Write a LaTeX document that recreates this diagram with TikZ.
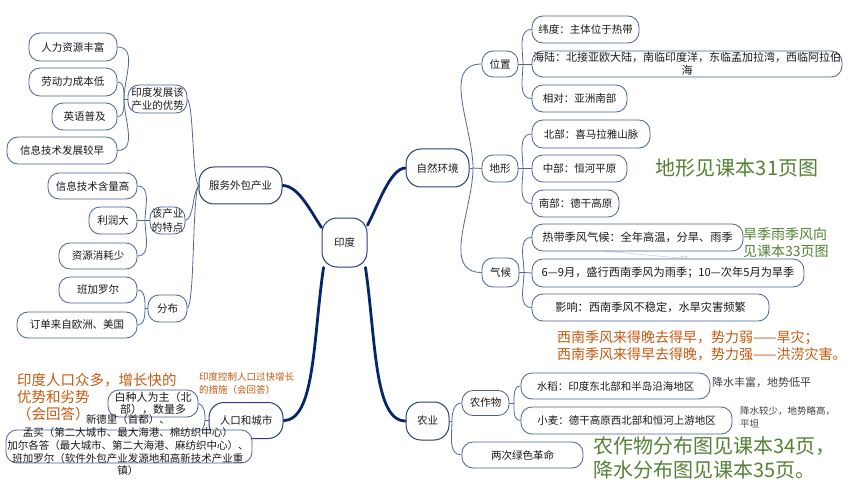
\documentclass[tikz,border=0pt]{standalone}
\usepackage{fontspec}
\setmainfont{Noto Sans CJK SC}
\usetikzlibrary{backgrounds}
\definecolor{nodeb}{RGB}{72,98,150}
\definecolor{mainb}{RGB}{40,64,120}
\definecolor{connc}{RGB}{80,104,152}
\definecolor{trunkc}{RGB}{5,38,105}
\definecolor{txt}{RGB}{25,25,25}
\definecolor{grn}{RGB}{84,130,53}
\definecolor{org}{RGB}{197,90,17}
\definecolor{gtx}{RGB}{64,64,64}
\newcommand\setfs[2]{\fontsize{#1}{#2}\selectfont}
\begin{document}
\begin{tikzpicture}[x=1pt,y=-1pt,
  bx/.style={draw=nodeb, line width=0.8pt, rounded corners=11pt, fill=white, inner sep=0pt, align=center, text=txt, font=\setfs{10.5}{13.5}},
  mainbox/.style={bx, draw=mainb, line width=1pt, rounded corners=15pt},
  conn/.style={draw=connc, line width=0.8pt},
  trunk/.style={draw=trunkc, line width=2.8pt, line cap=round},
  note/.style={inner sep=0pt, anchor=north west, align=left}]
\useasboundingbox (0,0) rectangle (860,484);

% main nodes
\node[mainbox, minimum width=45, minimum height=49] (india) at (344.5,242.5) {印度};
\node[mainbox, minimum width=83, minimum height=37] (svc) at (240.5,185.5) {服务外包产业};
\node[mainbox, minimum width=63, minimum height=38] (nat) at (437.5,168) {自然环境};
\node[mainbox, minimum width=74, minimum height=36] (pop) at (246,420.5) {人口和城市};
\node[mainbox, minimum width=43, minimum height=38] (agr) at (427.5,421) {农业};

% service branch
\node[bx, minimum width=59, minimum height=28] (adv) at (157.5,99) {印度发展该\\产业的优势};
\node[bx, minimum width=35, minimum height=27] (feat) at (167.5,220.5) {该产业\\的特点};
\node[bx, minimum width=39, minimum height=27] (dist) at (167.5,308.5) {分布};
\node[bx, minimum width=88, minimum height=28] (a1) at (73,47) {人力资源丰富};
\node[bx, minimum width=88, minimum height=28] (a2) at (73,82) {劳动力成本低};
\node[bx, minimum width=65, minimum height=27] (a3) at (84.5,116.5) {英语普及};
\node[bx, minimum width=110, minimum height=27] (a4) at (62,150.5) {信息技术发展较早};
\node[bx, minimum width=89, minimum height=26] (f1) at (92.5,186) {信息技术含量高};
\node[bx, minimum width=48, minimum height=27] (f2) at (113,220.5) {利润大};
\node[bx, minimum width=78, minimum height=26] (f3) at (98,256) {资源消耗少};
\node[bx, minimum width=78, minimum height=26] (d1) at (98,290) {班加罗尔};
\node[bx, minimum width=120, minimum height=26] (d2) at (77,325) {订单来自欧洲、美国};

% nature branch
\node[bx, minimum width=36, minimum height=26] (loc) at (500,64) {位置};
\node[bx, minimum width=36, minimum height=27] (ter) at (500,168.5) {地形};
\node[bx, minimum width=37, minimum height=29] (cli) at (500.5,272.5) {气候};
\node[bx, minimum width=107, minimum height=27] (l1) at (585.5,29.5) {纬度：主体位于热带};
\node[bx, minimum width=310, minimum height=26, font=\setfs{11}{13}] (l2) at (687,64) {海陆：北接亚欧大陆，南临印度洋，东临孟加拉湾，西临阿拉伯\\海};
\node[bx, minimum width=95, minimum height=27] (l3) at (579.5,98.5) {相对：亚洲南部};
\node[bx, minimum width=118, minimum height=28] (t1) at (591,134) {北部：喜马拉雅山脉};
\node[bx, minimum width=95, minimum height=27] (t2) at (579.5,168.5) {中部：恒河平原};
\node[bx, minimum width=87, minimum height=27] (t3) at (575.5,203.5) {南部：德干高原};
\node[bx, minimum width=211, minimum height=27, font=\setfs{11.2}{13}] (c1) at (637.5,237.5) {热带季风气候：全年高温，分旱、雨季};
\node[bx, minimum width=272, minimum height=28, font=\setfs{11.2}{13}] (c2) at (668,273) {6—9月，盛行西南季风为雨季；10—次年5月为旱季};
\node[bx, minimum width=237, minimum height=27, font=\setfs{11.2}{13}] (c3) at (650.5,307.5) {影响：西南季风不稳定，水旱灾害频繁};
\node[inner sep=0pt, text=gray!60, font=\setfs{4}{5}] (tiny) at (684,258) {雨季};

% agriculture branch
\node[bx, minimum width=47, minimum height=25] (crop) at (485.5,403) {农作物};
\node[bx, minimum width=121, minimum height=26] (green) at (522.5,455) {两次绿色革命};
\node[bx, minimum width=189, minimum height=26] (rice) at (615.5,386) {水稻：印度东北部和半岛沿海地区};
\node[bx, minimum width=211, minimum height=27] (wheat) at (626.5,420.5) {小麦：德干高原西北部和恒河上游地区};

% population branch
\node[bx, minimum width=90, minimum height=27, font=\setfs{11}{12.5}] (white) at (153,403.5) {白种人为主（北\\部），数量多};
\node[bx, minimum width=246, minimum height=33] (city) at (129,446.5) {};
\node[inner sep=0pt, align=center, text=txt, font=\setfs{10.5}{12.75}] (citytxt) at (128,445.5) {新德里（首都）、\\孟买（第二大城市、最大海港、棉纺织中心）\\加尔各答（最大城市、第二大海港、麻纺织中心）、\\班加罗尔（软件外包产业发源地和高新技术产业重\\镇）};

% annotations
\node[inner sep=0pt, text=grn, font=\setfs{20}{24}] (n1) at (737,167.5) {地形见课本31页图};
\node[note, text=grn, font=\setfs{14}{17}] (n2) at (743,227.6) {旱季雨季风向\\见课本33页图};
\node[note, text=org, font=\setfs{14}{17}] (n3) at (557,330.6) {西南季风来得晚去得早，势力弱——旱灾；\\西南季风来得早去得晚，势力强——洪涝灾害。};
\node[note, text=grn, font=\setfs{20}{24}] (n4) at (593,436.8) {农作物分布图见课本34页，\\降水分布图见课本35页。};
\node[inner sep=0pt, anchor=west, text=gtx, font=\setfs{11}{13}] (n5) at (712,382) {降水丰富，地势低平};
\node[note, text=gtx, font=\setfs{9.5}{13}] (n6) at (740,406.6) {降水较少，地势略高，\\平坦};
\node[note, text=org, font=\setfs{14.5}{17}] (n7) at (17,373.3) {印度人口众多，增长快的\\优势和劣势\\（会回答）};
\node[note, text=org, font=\setfs{9.5}{13}] (n8) at (199,372.6) {印度控制人口过快增长\\的措施（会回答）};

\begin{pgfonlayer}{background}
\fill[white] (0,0) rectangle (860,484);
% trunks
\draw[trunk] (india.147) .. controls (310,210) and (298,185.5) .. (svc.east);
\draw[trunk] (india.37) .. controls (377,208) and (390,168) .. (nat.west);
\draw[trunk] (india.230) .. controls (313,340) and (315,420.5) .. (pop.east);
\draw[trunk] (india.310) .. controls (376,340) and (374,421) .. (agr.west);

% service
\draw[conn] (svc.west) .. controls (192,178) and (194,108) .. (adv.east);
\draw[conn] (svc.west) .. controls (192,195) and (194,218) .. (feat.east);
\draw[conn] (svc.west) .. controls (192,200) and (195,300) .. (dist.east);
\coordinate (jadv) at (124,99);
\draw[conn] (adv.west) -- (jadv);
\draw[conn] (jadv) to[out=90,in=0] (a1.east);
\draw[conn] (jadv) to[out=90,in=0] (a2.east);
\draw[conn] (jadv) to[out=-90,in=0] (a3.east);
\draw[conn] (jadv) to[out=-90,in=0] (a4.east);
\coordinate (jfeat) at (145,220.5);
\draw[conn] (feat.west) -- (jfeat);
\draw[conn] (jfeat) to[out=90,in=0] (f1.east);
\draw[conn] (jfeat) -- (f2.east);
\draw[conn] (jfeat) to[out=-90,in=0] (f3.east);
\coordinate (jdist) at (145,308.5);
\draw[conn] (dist.west) -- (jdist);
\draw[conn] (jdist) to[out=90,in=0] (d1.east);
\draw[conn] (jdist) to[out=-90,in=0] (d2.east);

% nature
\coordinate (jnat) at (473,168);
\draw[conn] (nat.east) -- (jnat);
\draw[conn] (jnat) to[out=90,in=180] (loc.west);
\draw[conn] (jnat) -- (ter.west);
\draw[conn] (jnat) to[out=-90,in=180] (cli.west);
\coordinate (jloc) at (523,64);
\draw[conn] (loc.east) -- (jloc);
\draw[conn] (jloc) to[out=90,in=180] (l1.west);
\draw[conn] (jloc) -- (l2.west);
\draw[conn] (jloc) to[out=-90,in=180] (l3.west);
\coordinate (jter) at (523,168.5);
\draw[conn] (ter.east) -- (jter);
\draw[conn] (jter) to[out=90,in=180] (t1.west);
\draw[conn] (jter) -- (t2.west);
\draw[conn] (jter) to[out=-90,in=180] (t3.west);
\coordinate (jcli) at (524,272.5);
\draw[conn] (cli.east) -- (jcli);
\draw[conn] (jcli) to[out=90,in=180] (c1.west);
\draw[conn] (jcli) -- (c2.west);
\draw[conn] (jcli) to[out=-90,in=180] (c3.west);
\coordinate (jtiny) at (603,251);
\draw[gray!50, line width=0.4pt] (jtiny) -- (tiny.west);

% agriculture
\coordinate (jagr) at (452,421);
\draw[conn] (agr.east) -- (jagr);
\draw[conn] (jagr) to[out=90,in=180] (crop.west);
\draw[conn] (jagr) to[out=-90,in=180] (green.west);
\coordinate (jcrop) at (514,403);
\draw[conn] (crop.east) -- (jcrop);
\draw[conn] (jcrop) to[out=90,in=180] (rice.west);
\draw[conn] (jcrop) to[out=-90,in=180] (wheat.west);

% population
\coordinate (jpop) at (205,420.5);
\draw[conn] (pop.west) -- (jpop);
\draw[conn] (jpop) to[out=90,in=-20] (white.east);
\draw[conn] (jpop) to[out=-90,in=60] (city.13);
\end{pgfonlayer}
\end{tikzpicture}
\end{document}
